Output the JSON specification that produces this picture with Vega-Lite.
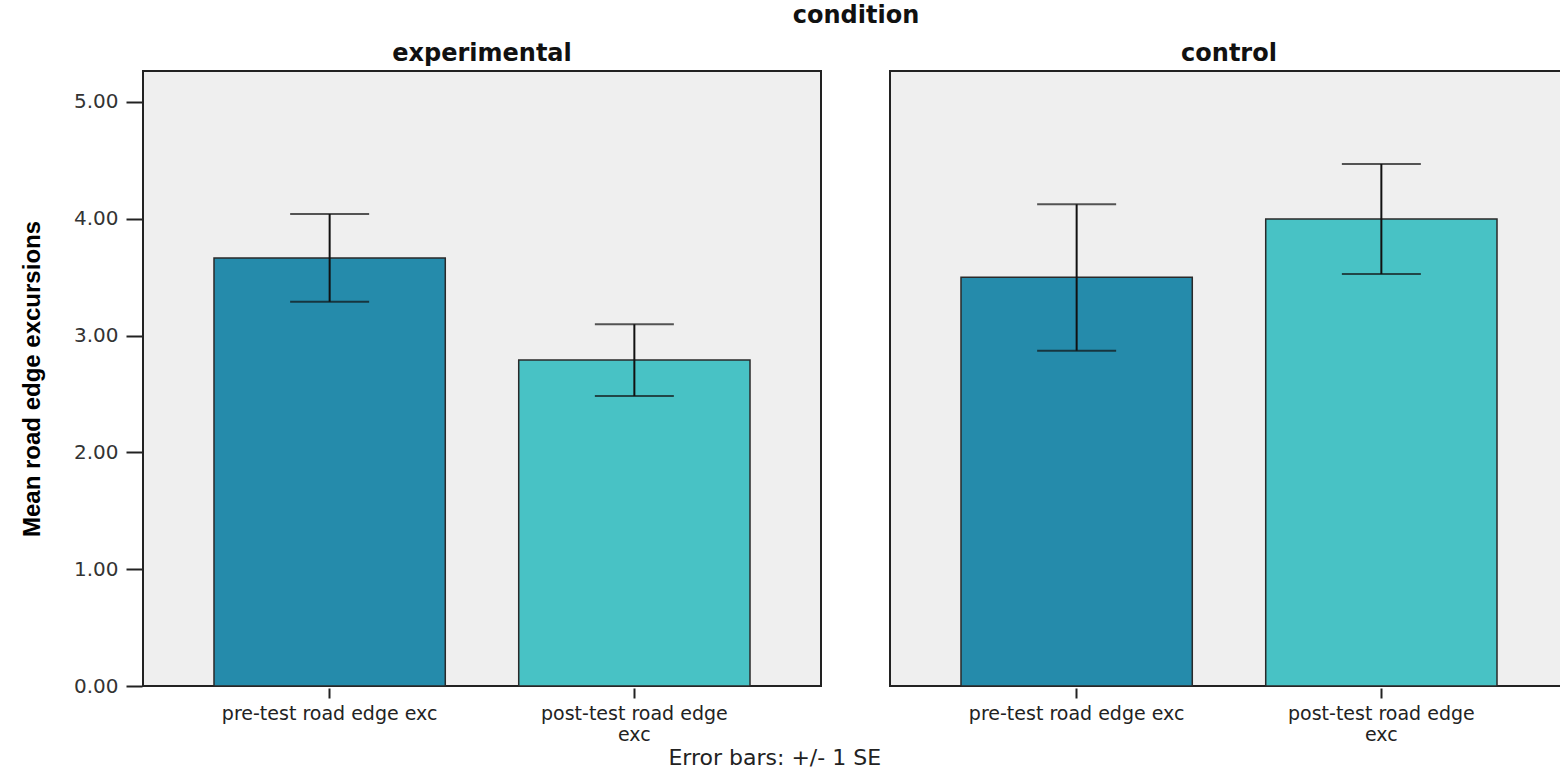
{
  "$schema": "https://vega.github.io/schema/vega-lite/v6.json",
  "padding": {"left": 20, "top": 4, "right": 0, "bottom": 0},
  "background": "white",
  "data": {"values": [
    {"condition": "experimental", "test": "pre-test road edge exc", "mean": 3.664, "lo": 3.290, "hi": 4.041},
    {"condition": "experimental", "test": "post-test road edge exc", "mean": 2.791, "lo": 2.483, "hi": 3.097},
    {"condition": "control", "test": "pre-test road edge exc", "mean": 3.499, "lo": 2.871, "hi": 4.124},
    {"condition": "control", "test": "post-test road edge exc", "mean": 3.998, "lo": 3.527, "hi": 4.469}
  ]},
  "title": {"text": "Error bars: +/- 1 SE", "orient": "bottom", "anchor": "middle", "fontSize": 22, "fontWeight": "normal", "font": "DejaVu Sans", "color": "#222", "dx": -20, "offset": 4},
  "facet": {
    "column": {
      "field": "condition", "type": "nominal", "sort": ["experimental", "control"],
      "header": {
        "title": "condition", "titleFontSize": 24, "titleFontWeight": "bold", "titleFont": "DejaVu Sans", "titleColor": "#111", "titlePadding": 4,
        "labelFontSize": 24, "labelFontWeight": "bold", "labelFont": "DejaVu Sans", "labelColor": "#111", "labelPadding": 4
      }
    }
  },
  "spacing": 67,
  "resolve": {"scale": {"x": "shared"}},
  "spec": {
    "width": 678,
    "height": 615,
    "encoding": {
      "x": {
        "field": "test", "type": "nominal", "sort": ["pre-test road edge exc", "post-test road edge exc"],
        "scale": {"paddingInner": 0.241, "paddingOuter": 0.233},
        "axis": {
          "title": null, "labelAngle": 0, "labelFontSize": 19, "labelFont": "DejaVu Sans", "labelColor": "#222", "labelLimit": 0,
          "labelExpr": "datum.value == 'post-test road edge exc' ? ['post-test road edge', 'exc'] : datum.value",
          "labelLineHeight": 21, "tickSize": 10, "tickWidth": 2, "tickColor": "#222", "domain": false, "labelPadding": 6
        }
      }
    },
    "layer": [
      {
        "mark": {"type": "bar", "stroke": "#2a2a2a", "strokeWidth": 1.5},
        "encoding": {
          "y": {
            "field": "mean", "type": "quantitative",
            "scale": {"domain": [0, 5.265], "nice": false, "zero": true},
            "axis": {
              "title": "Mean road edge excursions", "titleFont": "Liberation Sans", "titleFontSize": 24, "titleFontWeight": "bold", "titleColor": "#000", "titlePadding": 29,
              "values": [0, 1, 2, 3, 4, 5], "format": ".2f", "labelFontSize": 20, "labelFont": "DejaVu Sans", "labelColor": "#333", "labelPadding": 8,
              "tickSize": 16, "tickWidth": 2, "tickColor": "#222", "grid": false, "domain": false
            }
          },
          "color": {
            "field": "test", "type": "nominal",
            "scale": {"domain": ["pre-test road edge exc", "post-test road edge exc"], "range": ["#258BAB", "#48C2C5"]},
            "legend": null
          }
        }
      },
      {
        "mark": {"type": "rule", "color": "#111", "strokeWidth": 2},
        "encoding": {
          "y": {"field": "lo", "type": "quantitative"},
          "y2": {"field": "hi"}
        }
      },
      {
        "mark": {"type": "tick", "color": "#111", "thickness": 2, "size": 79, "orient": "horizontal"},
        "encoding": {"y": {"field": "lo", "type": "quantitative"}}
      },
      {
        "mark": {"type": "tick", "color": "#111", "thickness": 2, "size": 79, "orient": "horizontal"},
        "encoding": {"y": {"field": "hi", "type": "quantitative"}}
      }
    ]
  },
  "config": {
    "view": {"fill": "#EFEFEF", "stroke": "#222", "strokeWidth": 2}
  }
}
